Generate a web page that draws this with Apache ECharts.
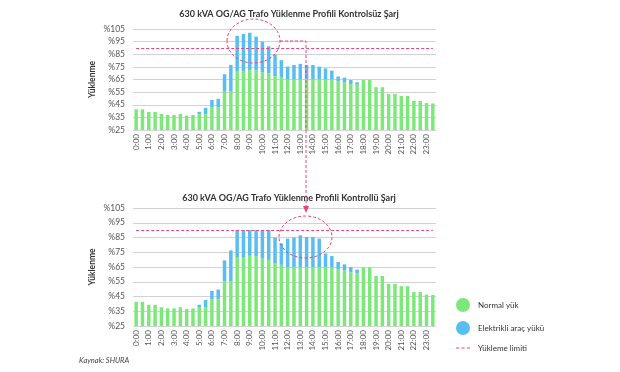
<!DOCTYPE html>
<html>
<head>
<meta charset="utf-8">
<script src="https://cdn.jsdelivr.net/npm/echarts@6/dist/echarts.min.js"></script>
<style>html,body{margin:0;padding:0;background:#fff}#c{width:620px;height:372px}</style>
</head>
<body>
<div id="c"></div>
<script>
const categories = ['0:00','0:30','1:00','1:30','2:00','2:30','3:00','3:30','4:00','4:30','5:00','5:30','6:00','6:30','7:00','7:30','8:00','8:30','9:00','9:30','10:00','10:30','11:00','11:30','12:00','12:30','13:00','13:30','14:00','14:30','15:00','15:30','16:00','16:30','17:00','17:30','18:00','18:30','19:00','19:30','20:00','20:30','21:00','21:30','22:00','22:30','23:00','23:30'];
const normalLoad = [41.4,41.4,39.3,39.3,37.7,36.9,36.9,37.7,36.4,36.9,37.5,37.5,43,43,55.3,55.3,71.3,71.3,72.6,72.3,70.7,69.8,67.7,66.5,65,65,65,65,65,65,65,65,63.4,62.6,61.4,60.8,64.7,64.7,58.9,58.9,53.6,53.6,52,52,48,48,46.3,46];
const evUncontrolled = [0,0,0,0,0,0,0,0,0,0,1.9,5.1,5.8,6.7,13.9,21.2,28.3,29.8,29.4,26.7,24.3,21.5,16.9,13.8,10.2,11.5,12.4,11.6,11.5,10.2,8.8,7,4,3.8,3.2,2,0,0,0,0,0,0,0,0,0,0,0,0];
const evControlled = [0,0,0,0,0,0,0,0,0,0,1.9,5.1,5.8,6.7,14.2,21,18.7,18.7,17.4,17.7,19.3,20.2,17.3,14.5,19.2,20,21.5,20.4,20.4,19.2,9.2,7.4,5,4.2,3.6,2.5,0,0,0,0,0,0,0,0,0,0,0,0];
const loadLimit = 90;
const yMin = 25, yMax = 105, yStep = 10;
const titles = ['630 kVA OG/AG Trafo Yüklenme Profili Kontrolsüz Şarj','630 kVA OG/AG Trafo Yüklenme Profili Kontrollü Şarj'];
const seriesNames = ['Normal yük','Elektrikli araç yükü','Yükleme limiti'];

const GREEN = '#7de87a', BLUE = '#58bdf0', PINK = '#e8457f';
const FONT = 'Lato';
const chart = echarts.init(document.getElementById('c'), null, {renderer:'canvas'});

function xAxis(gi){
  return {type:'category', gridIndex:gi, data:categories,
    axisLine:{show:false}, axisTick:{show:false},
    axisLabel:{rotate:90, interval:1, fontSize:8, color:'#555', margin:4, fontFamily:FONT}};
}
function yAxis(gi){
  return {type:'value', gridIndex:gi, min:yMin, max:yMax, interval:yStep,
    axisLine:{show:false}, axisTick:{show:false},
    splitLine:{lineStyle:{color:'#d2d2d2', width:1}},
    axisLabel:{formatter:v=>'%'+v, fontSize:8.5, color:'#555', margin:8, fontFamily:FONT},
    name:'Yüklenme', nameLocation:'middle', nameGap:36,
    nameTextStyle:{fontSize:8.5, fontWeight:'bold', color:'#333', fontFamily:FONT}};
}
function bars(gi, ev){
  return [
    {name:seriesNames[0], type:'bar', xAxisIndex:gi, yAxisIndex:gi, stack:'s'+gi, data:normalLoad, barWidth:3.5, itemStyle:{color:GREEN}, silent:true},
    {name:seriesNames[1], type:'bar', xAxisIndex:gi, yAxisIndex:gi, stack:'s'+gi, data:ev, barWidth:3.5, itemStyle:{color:BLUE}, silent:true},
    {name:seriesNames[2], type:'line', xAxisIndex:gi, yAxisIndex:gi, data:[], symbol:'none',
      lineStyle:{color:PINK, type:[3,2], width:1}, itemStyle:{color:PINK},
      markLine:{silent:true, symbol:'none', label:{show:false},
        lineStyle:{color:PINK, type:[3,2], width:1},
        data:[[{coord:[categories[0], loadLimit]},{coord:[categories[categories.length-1], loadLimit]}]]}}
  ];
}
const dash = [3,2];
chart.setOption({
  animation:false,
  title:[
    {text:titles[0], left:284, top:5, textAlign:'center', textStyle:{fontSize:9, fontWeight:'bold', color:'#333', fontFamily:FONT}},
    {text:titles[1], left:284, top:189, textAlign:'center', textStyle:{fontSize:9, fontWeight:'bold', color:'#333', fontFamily:FONT}}
  ],
  grid:[
    {left:133, right:184, top:29, height:101},
    {left:133, right:184, top:208, height:118}
  ],
  xAxis:[xAxis(0), xAxis(1)],
  yAxis:[yAxis(0), yAxis(1)],
  legend:{orient:'vertical', left:456, top:298, padding:0, itemWidth:14, itemHeight:14, itemGap:9,
    data:[{name:seriesNames[0], icon:'circle'},{name:seriesNames[1], icon:'circle'},
      {name:seriesNames[2], icon:'path://M0,0h3v1h-3zM5,0h3v1h-3zM10,0h3v1h-3z', itemStyle:{color:PINK}}],
    textStyle:{fontSize:8, color:'#333', fontFamily:FONT, padding:[0,0,0,3]}},
  series:[...bars(0, evUncontrolled), ...bars(1, evControlled)],
  graphic:[
    {type:'ellipse', shape:{cx:253.5, cy:41, rx:26.5, ry:22}, style:{fill:null, stroke:PINK, lineWidth:1, lineDash:dash}, z:100},
    {type:'polyline', shape:{points:[[280,41],[306,41],[306,206]]}, style:{fill:null, stroke:PINK, lineWidth:1, lineDash:dash}, z:100},
    {type:'polygon', shape:{points:[[303,206],[309,206],[306,213]]}, style:{fill:PINK}, z:100},
    {type:'ellipse', shape:{cx:305.5, cy:237, rx:26.5, ry:21}, style:{fill:null, stroke:PINK, lineWidth:1, lineDash:dash}, z:100},
    {type:'text', left:79, top:357, style:{text:'Kaynak: SHURA', fontSize:7.5, fontStyle:'italic', fill:'#444', fontFamily:FONT}}
  ]
});
</script>
</body>
</html>
